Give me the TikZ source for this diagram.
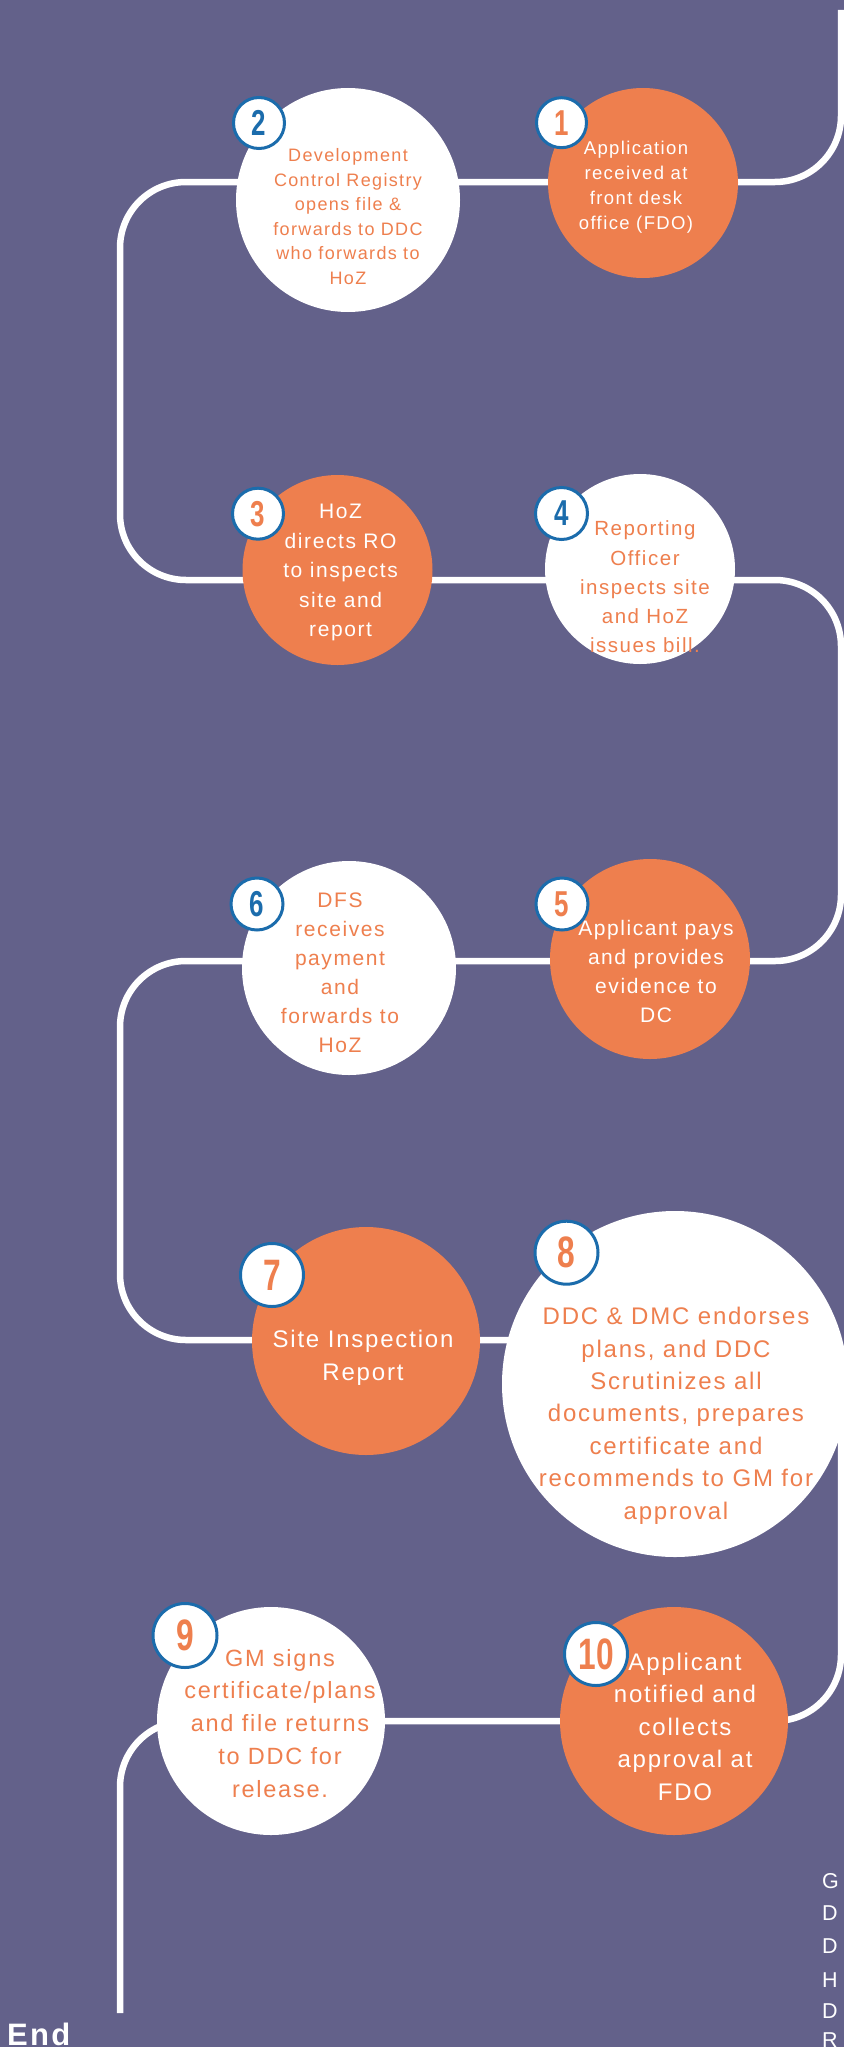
\documentclass[tikz,border=0pt]{standalone}
\usepackage{fontspec}
\setmainfont{Liberation Sans}[LetterSpace=7.5]
\newfontfamily\plainfont{Liberation Sans}
\newfontfamily\numfont{Liberation Sans Bold}
\usetikzlibrary{calc}
\definecolor{bgpurple}{RGB}{99,97,138}
\definecolor{orng}{RGB}{238,127,78}
\definecolor{bblue}{RGB}{27,108,172}
\newcommand{\fsz}[2]{\fontsize{#1}{#2}\selectfont}
\newcommand{\bnum}[2]{\scalebox{0.72}[1]{\numfont\fontsize{#1}{#1}\selectfont #2}}
\tikzset{
  track/.style={draw=white, line width=6.5pt, rounded corners=66pt},
  ocirc/.style={circle, fill=orng, inner sep=0pt},
  wcirc/.style={circle, fill=white, inner sep=0pt},
  wtext/.style={text=white, align=center, inner sep=0pt, anchor=north},
  otext/.style={text=orng, align=center, inner sep=0pt, anchor=north},
  badge/.style={circle, fill=white, draw=bblue, line width=3pt, inner sep=0pt},
  legend/.style={anchor=base west, inner sep=0pt, text=white, font=\plainfont\fsz{21.5}{21.5}},
}
\begin{document}
\begin{tikzpicture}[x=1pt,y=-1pt]
\useasboundingbox (0,0) rectangle (844,2047);
\fill[bgpurple] (0,0) rectangle (844,2047);
\begin{scope}
\clip (0,0) rectangle (844,2047);
% track corners
\coordinate (p0) at (841,10);
\coordinate (p1) at (841,182);
\coordinate (p2) at (120,182);
\coordinate (p3) at (120,580);
\coordinate (p4) at (841,580);
\coordinate (p5) at (841,961);
\coordinate (p6) at (120,961);
\coordinate (p7) at (120,1340);
\coordinate (p8) at (841,1340);
\coordinate (p9) at (841,1721);
\coordinate (p10) at (120,1721);
\coordinate (p11) at (120,2013);
\draw[track] (p0) -- (p1) -- (p2) -- (p3) -- (p4) -- (p5) -- (p6) -- (p7) -- (p8) -- (p9) -- (p10) -- (p11);
% circles
\node[ocirc, minimum size=190pt] (c1) at (643,183) {};
\node[wcirc, minimum size=224pt] (c2) at (348,200) {};
\node[ocirc, minimum size=190pt] (c3) at (337.5,570) {};
\node[wcirc, minimum size=190pt] (c4) at (640,569) {};
\node[ocirc, minimum size=200pt] (c5) at (650,959) {};
\node[wcirc, minimum size=214pt] (c6) at (349,968) {};
\node[ocirc, minimum size=228pt] (c7) at (366,1341) {};
\node[wcirc, minimum size=346pt] (c8) at (675,1384) {};
\node[wcirc, minimum size=228pt] (c9) at (271,1721) {};
\node[ocirc, minimum size=228pt] (c10) at (674,1721) {};
% texts
\node[wtext, font=\fsz{18.5}{25}] (t1) at (636,141) {Application\\received at\\front desk\\office (FDO)};
\node[otext, font=\fsz{18}{24.5}] (t2) at (348,148.3) {Development\\Control Registry\\opens file \&\\forwards to DDC\\who forwards to\\HoZ};
\node[wtext, font=\fsz{21}{29.5}] (t3) at (340.6,504) {HoZ\\directs RO\\to inspects\\site and\\report};
\node[otext, font=\fsz{20.5}{29.3}] (t4) at (645,520.7) {Reporting\\Officer\\inspects site\\and HoZ\\issues bill.};
\node[wtext, font=\fsz{21}{29}] (t5) at (656,920.5) {Applicant pays\\and provides\\evidence to\\DC};
\node[otext, font=\fsz{21}{29}] (t6) at (340,892.2) {DFS\\receives\\payment\\and\\forwards to\\HoZ};
\node[wtext, font=\fsz{24}{33}] (t7) at (363,1329.4) {Site Inspection\\Report};
\node[otext, font=\fsz{24}{32.4}] (t8) at (676,1307) {DDC \& DMC endorses\\plans, and DDC\\Scrutinizes all\\documents, prepares\\certificate and\\recommends to GM for\\approval};
\node[otext, font=\fsz{23.5}{32.7}] (t9) at (280,1649) {GM signs\\certificate/plans\\and file returns\\to DDC for\\release.};
\node[wtext, font=\fsz{24}{32.5}] (t10) at (685,1652.8) {Applicant\\notified and\\collects\\approval at\\FDO};
% badges
\node[badge, minimum size=50pt, text=orng] (b1) at (561.5,122.7) {\bnum{36}{1}};
\node[badge, minimum size=51pt, text=bblue] (b2) at (259,123) {\bnum{36}{2}};
\node[badge, minimum size=51pt, text=orng] (b3) at (258,513.7) {\bnum{36}{3}};
\node[badge, minimum size=52pt, text=bblue] (b4) at (561.5,513.5) {\bnum{36}{4}};
\node[badge, minimum size=52pt, text=orng] (b5) at (562,904) {\bnum{36}{5}};
\node[badge, minimum size=52pt, text=bblue] (b6) at (257,904) {\bnum{36}{6}};
\node[badge, minimum size=63pt, text=orng] (b7) at (272,1275) {\bnum{44}{7}};
\node[badge, minimum size=63pt, text=orng] (b8) at (566.5,1252.7) {\bnum{44}{8}};
\node[badge, minimum size=64pt, text=orng] (b9) at (185,1635.5) {\bnum{44}{9}};
\node[badge, minimum size=63pt, text=orng] (b10) at (596,1654) {\bnum{44}{10}};
% legend (only first letters visible at the right edge)
\node[legend] (g1) at (822,1888) {G};
\node[legend] (g2) at (822,1920.7) {D};
\node[legend] (g3) at (822,1953) {D};
\node[legend] (g4) at (822,1987) {H};
\node[legend] (g5) at (822,2018) {D};
\node[legend] (g6) at (822,2047) {R};
% end label
\node[anchor=base west, inner sep=0pt, text=white, font=\bfseries\fsz{31}{31}] (endlabel) at (7,2045) {End};
\end{scope}
\end{tikzpicture}
\end{document}
